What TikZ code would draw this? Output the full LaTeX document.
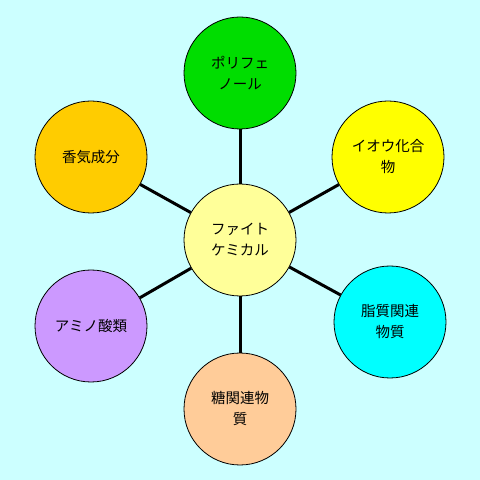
\documentclass[tikz,border=0pt]{standalone}
\usepackage{fontspec}
\newfontfamily\jp{Noto Sans CJK JP}
\definecolor{bg}{HTML}{CCFFFF}
\definecolor{cgreen}{HTML}{00DD00}
\definecolor{cyellow}{HTML}{FFFF00}
\definecolor{ccyan}{HTML}{00FFFF}
\definecolor{cpeach}{HTML}{FFCC99}
\definecolor{clav}{HTML}{CC99FF}
\definecolor{corange}{HTML}{FFCC00}
\definecolor{ccenter}{HTML}{FFFF99}
\tikzset{
  bubble/.style={circle, draw=black, line width=0.8pt, minimum size=112pt, inner sep=0pt,
    align=center, font=\jp\fontsize{14.5}{21}\selectfont},
  link/.style={draw=black, line width=3pt}
}
\begin{document}
\begin{tikzpicture}[x=1pt,y=1pt]
\fill[bg] (0,0) rectangle (480,480);
\useasboundingbox (0,0) rectangle (480,480);
\node[bubble, fill=ccenter] (c) at (240,240) {ファイト\\ケミカル};
\node[bubble, fill=cgreen] (t) at (240,407) {ポリフェ\\ノール};
\node[bubble, fill=cyellow] (ur) at (388,323) {イオウ化合\\物};
\node[bubble, fill=ccyan] (lr) at (390,158) {脂質関連\\物質};
\node[bubble, fill=cpeach] (b) at (240,71) {糖関連物\\質};
\node[bubble, fill=clav] (ll) at (91,154) {アミノ酸類};
\node[bubble, fill=corange] (ul) at (91,323) {香気成分};
\foreach \n in {t,ur,lr,b,ll,ul} \draw[link] (c) -- (\n);
\end{tikzpicture}
\end{document}
